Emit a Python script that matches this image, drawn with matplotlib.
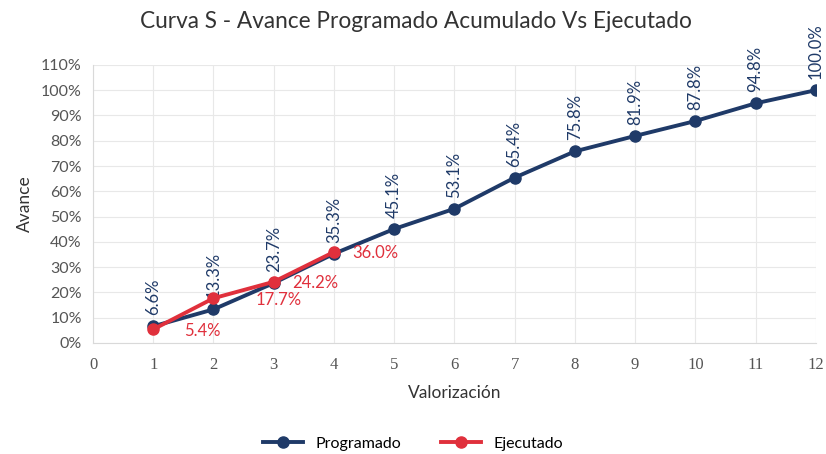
import matplotlib
matplotlib.use("Agg")
import matplotlib.pyplot as plt
from matplotlib.ticker import FuncFormatter, MultipleLocator

plt.rcParams['font.family'] = ['Lato', 'DejaVu Sans']

periods_prog = [1, 2, 3, 4, 5, 6, 7, 8, 9, 10, 11, 12]
programado = [6.6, 13.3, 23.7, 35.3, 45.1, 53.1, 65.4, 75.8, 81.9, 87.8, 94.8, 100.0]
periods_ejec = [1, 2, 3, 4]
ejecutado = [5.4, 17.7, 24.2, 36.0]

navy = '#1f3a68'
red = '#e0303c'

fig = plt.figure(figsize=(8.26, 4.54), dpi=100)
ax = fig.add_axes([0.1126, 0.2445, 0.875, 0.6125])

ax.plot(periods_prog, programado, color=navy, lw=2.8, marker='o', ms=8, label='Programado', zorder=3)
ax.plot(periods_ejec, ejecutado, color=red, lw=2.8, marker='o', ms=8, label='Ejecutado', zorder=4)

for x, y in zip(periods_prog, programado):
    ax.annotate(f'{y:.1f}%', (x, y), xytext=(0, 8), textcoords='offset points',
                rotation=90, ha='center', va='bottom', color=navy, fontsize=12)
ejec_label_dx = [22, 30, 13, 13]
for (x, y), dx in zip(zip(periods_ejec, ejecutado), ejec_label_dx):
    ax.annotate(f'{y:.1f}%', (x, y), xytext=(dx, -1), textcoords='offset points',
                ha='left', va='center', color=red, fontsize=12)

ax.set_xlim(0, 12)
ax.set_ylim(0, 110)
ax.xaxis.set_major_locator(MultipleLocator(1))
ax.yaxis.set_major_locator(MultipleLocator(10))
ax.yaxis.set_major_formatter(FuncFormatter(lambda v, p: f'{v:.0f}%'))
ax.grid(True, color='#e8e8e8', lw=0.8)
ax.set_axisbelow(True)
for s in ['top', 'right']:
    ax.spines[s].set_visible(False)
for s in ['left', 'bottom']:
    ax.spines[s].set_color('#d9d9d9')
ax.tick_params(length=0, colors='#555555', labelsize=11.5)
ax.tick_params(axis='y', pad=8)
ax.tick_params(axis='x', pad=10)
for lab in ax.get_xticklabels():
    lab.set_family(['Liberation Serif', 'DejaVu Serif'])
    lab.set_fontsize(12)

fig.text(0.503, 0.952, 'Curva S - Avance Programado Acumulado Vs Ejecutado', fontsize=16.3,
         color='#333333', ha='center', va='center')
ax.set_xlabel('Valorización', fontsize=12.5, color='#333333', labelpad=9)
ax.set_ylabel('Avance', fontsize=12.5, color='#333333', labelpad=6)

fig.legend(handles=ax.get_lines(), loc='lower center', bbox_to_anchor=(0.5, -0.025), ncol=2,
           frameon=False, fontsize=11.5, handlelength=2.5, columnspacing=2.5)

fig.savefig('out.png', dpi=100)
